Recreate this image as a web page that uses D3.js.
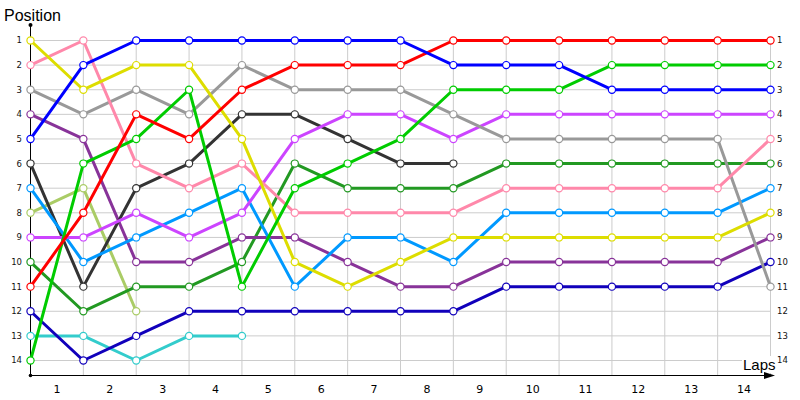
<!DOCTYPE html>
<html>
<head>
<meta charset="utf-8">
<script src="https://cdn.jsdelivr.net/npm/d3@7/dist/d3.min.js"></script>
<style>
  body { margin: 0; background: #fff; }
  svg { display: block; }
</style>
</head>
<body>
<svg id="chart" width="800" height="400"></svg>
<script>
// ---- data ----
const lapLabels = ["1","2","3","4","5","6","7","8","9","10","11","12","13","14"];
const positionLabels = [1,2,3,4,5,6,7,8,9,10,11,12,13,14];

const yellowSeries    = [1,3,2,2,5,10,11,10,9,9,9,9,9,9,8];
const pinkSeries      = [2,1,6,7,6,8,8,8,8,7,7,7,7,7,5];
const blueSeries      = [5,2,1,1,1,1,1,1,2,2,2,3,3,3,3];
const graySeries      = [3,4,3,4,2,3,3,3,4,5,5,5,5,5,11];
const purpleSeries    = [4,5,10,10,9,9,10,11,11,10,10,10,10,10,9];
const blackSeries     = [6,11,7,6,4,4,5,6,6];
const lightBlueSeries = [7,10,9,8,7,11,9,9,10,8,8,8,8,8,7];
const oliveSeries     = [8,7,12];
const magentaSeries   = [9,9,8,9,8,5,4,4,5,4,4,4,4,4,4];
const redSeries       = [11,8,4,5,3,2,2,2,1,1,1,1,1,1,1];
const darkGreenSeries = [10,12,11,11,10,6,7,7,7,6,6,6,6,6,6];
const greenSeries     = [14,6,5,3,11,7,6,5,3,3,3,2,2,2,2];
const navySeries      = [12,14,13,12,12,12,12,12,12,11,11,11,11,11,10];
const cyanSeries      = [13,13,14,13,13];

const seriesList = [
  { values: cyanSeries,      color: "#33cccc" },
  { values: navySeries,      color: "#1100bb" },
  { values: oliveSeries,     color: "#aacc66" },
  { values: darkGreenSeries, color: "#229922" },
  { values: purpleSeries,    color: "#883399" },
  { values: blackSeries,     color: "#333333" },
  { values: lightBlueSeries, color: "#0099ff" },
  { values: magentaSeries,   color: "#cc44ff" },
  { values: graySeries,      color: "#999999" },
  { values: pinkSeries,      color: "#ff88aa" },
  { values: yellowSeries,    color: "#dddd00" },
  { values: greenSeries,     color: "#00cc00" },
  { values: redSeries,       color: "#ff0000" },
  { values: blueSeries,      color: "#0000ff" }
];

// ---- scales ----
const svg = d3.select("#chart");
const x = d3.scaleLinear().domain([0, 14]).range([30.5, 770.5]);
const y = d3.scaleLinear().domain([1, 14]).range([40.5, 360.5]);
const axisY = 375.5;

// grid
const grid = svg.append("g").attr("stroke", "#cccccc").attr("stroke-width", 1);
grid.selectAll("line.h").data(positionLabels).join("line")
  .attr("x1", x(0)).attr("x2", x(14))
  .attr("y1", d => y(d)).attr("y2", d => y(d));
grid.selectAll("line.v").data(d3.range(0, 15)).join("line")
  .attr("x1", d => x(d)).attr("x2", d => x(d))
  .attr("y1", y(1)).attr("y2", axisY);

// left axis labels
svg.append("g").selectAll("text").data(positionLabels).join("text")
  .attr("x", 22).attr("y", d => y(d)).attr("dy", "0.35em")
  .attr("text-anchor", "end")
  .attr("font-family", "DejaVu Sans, sans-serif").attr("font-size", 8.5)
  .attr("fill", "#111")
  .text(d => d);

// right axis labels
svg.append("g").selectAll("text").data(positionLabels).join("text")
  .attr("x", 777).attr("y", d => y(d)).attr("dy", "0.35em")
  .attr("text-anchor", "start")
  .attr("font-family", "DejaVu Sans, sans-serif").attr("font-size", 8.5)
  .attr("fill", "#111")
  .text(d => d);

// bottom labels
svg.append("g").selectAll("text").data(lapLabels).join("text")
  .attr("x", (d, i) => (x(i) + x(i + 1)) / 2).attr("y", 393)
  .attr("text-anchor", "middle")
  .attr("font-family", "DejaVu Sans, sans-serif").attr("font-size", 11)
  .attr("fill", "#000")
  .text(d => d);

// Laps label with white background
svg.append("rect").attr("x", 742).attr("y", 356).attr("width", 33).attr("height", 17).attr("fill", "#fff");
svg.append("text").attr("x", 743).attr("y", 370)
  .attr("font-family", "Liberation Sans, Arial, sans-serif").attr("font-size", 15)
  .attr("fill", "#000").text("Laps");

// Position title
svg.append("text").attr("x", 4).attr("y", 21)
  .attr("font-family", "Liberation Sans, Arial, sans-serif").attr("font-size", 16)
  .attr("fill", "#000").text("Position");

// axes
svg.append("line").attr("x1", 30.5).attr("x2", 30.5).attr("y1", 25).attr("y2", axisY)
  .attr("stroke", "#000").attr("stroke-width", 1);
svg.append("circle").attr("cx", 30.5).attr("cy", 25).attr("r", 2).attr("fill", "#000");
svg.append("line").attr("x1", 30.5).attr("x2", 770).attr("y1", axisY).attr("y2", axisY)
  .attr("stroke", "#000").attr("stroke-width", 1);
svg.append("circle").attr("cx", 30.5).attr("cy", axisY).attr("r", 1.8).attr("fill", "#000");
svg.append("path").attr("d", `M764,${axisY - 3.5} L775,${axisY} L764,${axisY + 3.5} Z`).attr("fill", "#000");

// lines
const line = d3.line().x((d, i) => x(i)).y(d => y(d));
svg.append("g").selectAll("path").data(seriesList).join("path")
  .attr("d", s => line(s.values))
  .attr("fill", "none")
  .attr("stroke", s => s.color)
  .attr("stroke-width", 3)
  .attr("stroke-linejoin", "round");

// markers
const mg = svg.append("g");
seriesList.forEach(s => {
  mg.append("g").selectAll("circle").data(s.values).join("circle")
    .attr("cx", (d, i) => x(i)).attr("cy", d => y(d)).attr("r", 3.6)
    .attr("fill", "#fff").attr("stroke", s.color).attr("stroke-width", 1.2);
});
</script>
</body>
</html>
